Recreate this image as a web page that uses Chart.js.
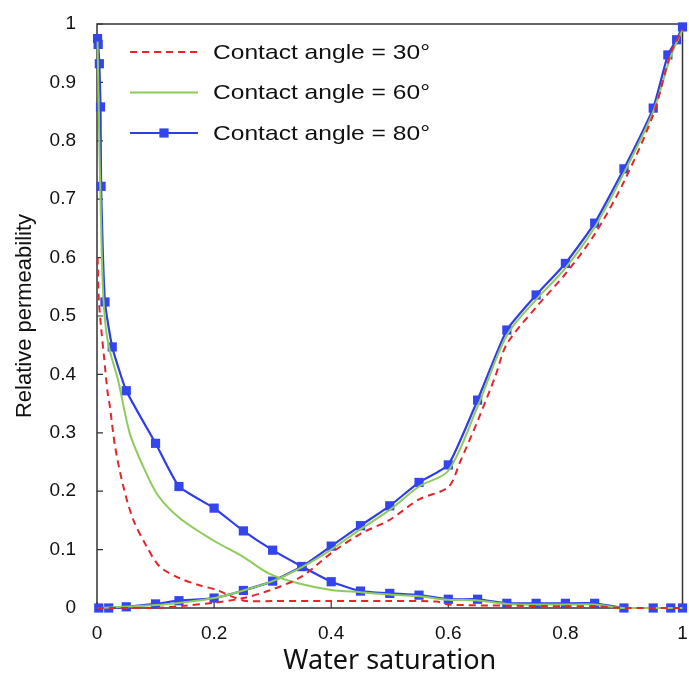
<!DOCTYPE html>
<html>
<head>
<meta charset="utf-8">
<script src="https://cdn.jsdelivr.net/npm/chart.js@4.4.0/dist/chart.umd.min.js"></script>
<style>
  html, body { margin: 0; padding: 0; background: #fff; }
  #wrap { width: 689px; height: 675px; }
</style>
</head>
<body>
<div id="wrap"><canvas id="chart" width="689" height="675"></canvas></div>
<script>
// legend labels
const angleLabels = ['Contact angle = 30°', 'Contact angle = 60°', 'Contact angle = 80°'];

// axis ticks
const xTicks = [0, 0.2, 0.4, 0.6, 0.8, 1];
const yTicks = [0, 0.1, 0.2, 0.3, 0.4, 0.5, 0.6, 0.7, 0.8, 0.9, 1];

// 30 degrees - oil (falling) and water (rising) branches
const sw30oil = [0.001, 0.003, 0.007, 0.012, 0.018, 0.022, 0.031, 0.045, 0.062, 0.085, 0.107, 0.141, 0.175, 0.204, 0.232, 0.255, 0.3, 0.4, 0.5, 0.58, 0.6, 0.7, 0.8, 0.85, 0.9, 1];
const kr30oil = [0.6, 0.53, 0.48, 0.43, 0.37, 0.345, 0.276, 0.208, 0.151, 0.105, 0.071, 0.051, 0.039, 0.031, 0.019, 0.012, 0.012, 0.012, 0.012, 0.011, 0.006, 0.004, 0.003, 0.003, 0, 0];
const sw30wat = [0, 0.1, 0.15, 0.2, 0.25, 0.3, 0.35, 0.4, 0.45, 0.5, 0.55, 0.6, 0.62, 0.65, 0.68, 0.7, 0.75, 0.8, 0.85, 0.9, 0.95, 0.98, 1];
const kr30wat = [0, 0, 0.004, 0.009, 0.017, 0.032, 0.054, 0.094, 0.127, 0.151, 0.186, 0.207, 0.25, 0.32, 0.396, 0.452, 0.515, 0.572, 0.64, 0.73, 0.845, 0.95, 0.99];

// 60 degrees
const sw60oil = [0.001, 0.003, 0.006, 0.01, 0.015, 0.022, 0.036, 0.056, 0.079, 0.104, 0.141, 0.198, 0.249, 0.294, 0.345, 0.4, 0.45, 0.5, 0.55, 0.6, 0.65, 0.7, 0.8, 0.85, 0.9, 1];
const kr60oil = [0.97, 0.85, 0.7, 0.55, 0.48, 0.44, 0.39, 0.299, 0.242, 0.193, 0.154, 0.116, 0.088, 0.059, 0.042, 0.031, 0.027, 0.023, 0.02, 0.014, 0.013, 0.007, 0.006, 0.006, 0, 0];
const sw60wat = [0, 0.1, 0.15, 0.2, 0.25, 0.3, 0.35, 0.4, 0.45, 0.5, 0.55, 0.6, 0.65, 0.7, 0.75, 0.8, 0.85, 0.9, 0.95, 0.98, 1];
const kr60wat = [0, 0.005, 0.01, 0.017, 0.03, 0.046, 0.07, 0.1, 0.135, 0.168, 0.208, 0.235, 0.345, 0.467, 0.528, 0.582, 0.652, 0.745, 0.85, 0.945, 0.99];

// 80 degrees (with markers)
const sw80oil = [0.001, 0.002, 0.004, 0.006, 0.007, 0.0136, 0.026, 0.05, 0.1, 0.14, 0.2, 0.25, 0.3, 0.35, 0.4, 0.45, 0.5, 0.55, 0.6, 0.65, 0.7, 0.75, 0.8, 0.85, 0.9, 0.95, 0.98, 1];
const kr80oil = [0.975, 0.965, 0.932, 0.858, 0.722, 0.524, 0.447, 0.372, 0.282, 0.208, 0.171, 0.132, 0.099, 0.071, 0.045, 0.029, 0.025, 0.022, 0.015, 0.015, 0.008, 0.008, 0.008, 0.008, 0, 0, 0, 0];
const sw80wat = [0.003, 0.02, 0.05, 0.1, 0.14, 0.2, 0.25, 0.3, 0.35, 0.4, 0.45, 0.5, 0.55, 0.6, 0.65, 0.7, 0.75, 0.8, 0.85, 0.9, 0.95, 0.975, 0.99, 1];
const kr80wat = [0, 0, 0.002, 0.007, 0.0125, 0.017, 0.03, 0.046, 0.071, 0.106, 0.141, 0.175, 0.215, 0.245, 0.356, 0.476, 0.536, 0.59, 0.659, 0.752, 0.856, 0.947, 0.973, 0.995];

const toPoints = (xs, ys) => xs.map((x, i) => ({x: x, y: ys[i]}));

const red = '#E3262A';
const green = '#8DCB5A';
const blue = '#2E3DEB';
const sansFont = '"Liberation Sans", Arial, sans-serif';

const dashed = {borderColor: red, borderWidth: 2, borderDash: [7, 5], pointRadius: 0, tension: 0.3};
const plain = {borderColor: green, borderWidth: 2, pointRadius: 0, tension: 0.3};
const marked = {
    borderColor: blue, borderWidth: 2.2, tension: 0.15,
    pointStyle: 'rect', pointRadius: 6.5, pointBackgroundColor: '#3344F0', pointBorderWidth: 0
};

const datasets = [
    {label: angleLabels[0], data: toPoints(sw30oil, kr30oil), ...dashed},
    {label: angleLabels[0], data: toPoints(sw30wat, kr30wat), ...dashed},
    {label: angleLabels[1], data: toPoints(sw60oil, kr60oil), ...plain},
    {label: angleLabels[1], data: toPoints(sw60wat, kr60wat), ...plain},
    {label: angleLabels[2], data: toPoints(sw80oil, kr80oil), ...marked},
    {label: angleLabels[2], data: toPoints(sw80wat, kr80wat), ...marked}
];
datasets.forEach(d => { d.clip = false; d.fill = false; });

// frame box and inward tick marks
const framePlugin = {
    id: 'frame',
    beforeDatasetsDraw(chart) {
        const {ctx, chartArea: a, scales} = chart;
        ctx.save();
        ctx.strokeStyle = '#333';
        ctx.lineWidth = 1.5;
        ctx.strokeRect(a.left, a.top, a.right - a.left, a.bottom - a.top);
        ctx.lineWidth = 1.2;
        ctx.beginPath();
        xTicks.forEach(v => {
            const px = scales.x.getPixelForValue(v);
            ctx.moveTo(px, a.bottom);
            ctx.lineTo(px, a.bottom - 6);
        });
        yTicks.forEach(v => {
            const py = scales.y.getPixelForValue(v);
            ctx.moveTo(a.left, py);
            ctx.lineTo(a.left + 6, py);
        });
        ctx.stroke();
        ctx.restore();
    }
};

// legend drawn inside the plot, top left (text slightly stretched like the original)
const legendPlugin = {
    id: 'insideLegend',
    afterDraw(chart) {
        const ctx = chart.ctx;
        ctx.save();
        ctx.font = '21px ' + sansFont;
        ctx.textBaseline = 'middle';
        [0, 2, 4].forEach((di, i) => {
            const ds = chart.data.datasets[di];
            const y = 52 + i * 40.5;
            ctx.save();
            ctx.strokeStyle = ds.borderColor;
            ctx.lineWidth = ds.borderWidth;
            ctx.setLineDash(ds.borderDash || []);
            ctx.beginPath();
            ctx.moveTo(130, y);
            ctx.lineTo(198, y);
            ctx.stroke();
            ctx.restore();
            if (ds.pointRadius) {
                ctx.fillStyle = ds.pointBackgroundColor;
                ctx.fillRect(164 - 4.6, y - 4.6, 9.2, 9.2);
            }
            const w = ctx.measureText(ds.label).width;
            ctx.save();
            ctx.translate(213, y + 1);
            ctx.scale(217 / w, 1);
            ctx.fillStyle = '#111';
            ctx.fillText(ds.label, 0, 0);
            ctx.restore();
        });
        ctx.restore();
    }
};

new Chart(document.getElementById('chart'), {
    type: 'line',
    data: {datasets: datasets},
    options: {
        responsive: false,
        animation: false,
        layout: {padding: {top: 24, right: 4, left: 0, bottom: 0}},
        plugins: {legend: {display: false}, tooltip: {enabled: false}},
        scales: {
            x: {
                type: 'linear', min: 0, max: 1,
                grid: {display: false, drawTicks: false},
                border: {display: false},
                afterBuildTicks: s => { s.ticks = xTicks.map(v => ({value: v})); },
                afterFit: s => { s.height = 67; s.paddingLeft = 0; s.paddingRight = 0; },
                ticks: {
                    padding: 14, color: '#111', maxRotation: 0,
                    font: {family: sansFont, size: 19},
                    callback: v => String(v)
                },
                title: {
                    display: true, text: 'Water saturation', color: '#111', padding: {top: 0, bottom: 0},
                    font: {family: '"Noto Sans", sans-serif', size: 27, lineHeight: 1}
                }
            },
            y: {
                type: 'linear', min: 0, max: 1,
                grid: {display: false, drawTicks: false},
                border: {display: false},
                afterBuildTicks: s => { s.ticks = yTicks.map(v => ({value: v})); },
                afterFit: s => { s.width = 97; s.paddingTop = 0; s.paddingBottom = 0; },
                ticks: {
                    padding: 21, color: '#111',
                    font: {family: sansFont, size: 19},
                    callback: v => String(v)
                },
                title: {
                    display: true, text: 'Relative permeability', color: '#111', padding: {top: 12, bottom: 0},
                    font: {family: sansFont, size: 22}
                }
            }
        }
    },
    plugins: [framePlugin, legendPlugin]
});
</script>
</body>
</html>
